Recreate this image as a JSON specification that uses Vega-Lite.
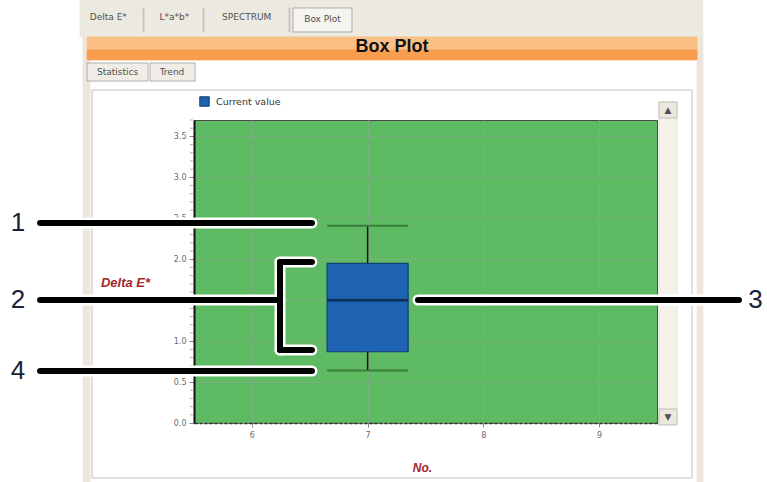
{
  "$schema": "https://vega.github.io/schema/vega-lite/v6.json",
  "autosize": {"type": "none"},
  "width": 463,
  "height": 303,
  "padding": {"left": 194, "top": 120, "right": 110, "bottom": 59},
  "background": "#ffffff",
  "config": {
    "view": {"fill": "#5fbb63", "stroke": "#4a4a4a", "strokeWidth": 1},
    "font": "DejaVu Sans",
    "scale": {"continuousPadding": 0}
  },
  "datasets": {
    "box": [
      {"No": 7, "lower": 0.64, "q1": 0.87, "median": 1.5, "q3": 1.95, "upper": 2.41, "series": "Current value"}
    ],
    "minorTicks": [
      {"No": 5.5, "v": 0.1}, {"No": 5.5, "v": 0.2}, {"No": 5.5, "v": 0.3}, {"No": 5.5, "v": 0.4},
      {"No": 5.5, "v": 0.6}, {"No": 5.5, "v": 0.7}, {"No": 5.5, "v": 0.8}, {"No": 5.5, "v": 0.9},
      {"No": 5.5, "v": 1.1}, {"No": 5.5, "v": 1.2}, {"No": 5.5, "v": 1.3}, {"No": 5.5, "v": 1.4},
      {"No": 5.5, "v": 1.6}, {"No": 5.5, "v": 1.7}, {"No": 5.5, "v": 1.8}, {"No": 5.5, "v": 1.9},
      {"No": 5.5, "v": 2.1}, {"No": 5.5, "v": 2.2}, {"No": 5.5, "v": 2.3}, {"No": 5.5, "v": 2.4},
      {"No": 5.5, "v": 2.6}, {"No": 5.5, "v": 2.7}, {"No": 5.5, "v": 2.8}, {"No": 5.5, "v": 2.9},
      {"No": 5.5, "v": 3.1}, {"No": 5.5, "v": 3.2}, {"No": 5.5, "v": 3.3}, {"No": 5.5, "v": 3.4},
      {"No": 5.5, "v": 3.6}, {"No": 5.5, "v": 3.7}
    ],
    "frame": [
      {"part": "header", "x": 4.515, "x2": 9.897, "y": 5.2, "y2": 4.714},
      {"part": "strip", "x": 4.541, "x2": 4.602, "y": 4.714, "y2": -0.75},
      {"part": "strip", "x": 9.846, "x2": 9.897, "y": 4.714, "y2": -0.75},
      {"part": "bandTop", "x": 4.576, "x2": 9.846, "y": 4.714, "y2": 4.555},
      {"part": "bandBottom", "x": 4.576, "x2": 9.846, "y": 4.555, "y2": 4.433},
      {"part": "tab", "x": 6.355, "x2": 6.865, "y": 5.068, "y2": 4.775},
      {"part": "sep", "x": 5.059, "x2": 5.068, "y": 5.068, "y2": 4.775},
      {"part": "sep", "x": 5.578, "x2": 5.587, "y": 5.068, "y2": 4.775},
      {"part": "sep", "x": 6.32, "x2": 6.329, "y": 5.068, "y2": 4.775},
      {"part": "subtab", "x": 4.576, "x2": 5.103, "y": 4.396, "y2": 4.176},
      {"part": "subtab", "x": 5.12, "x2": 5.509, "y": 4.396, "y2": 4.176},
      {"part": "scroll", "x": 9.517, "x2": 9.673, "y": 3.92, "y2": -0.024},
      {"part": "button", "x": 9.517, "x2": 9.673, "y": 3.92, "y2": 3.724},
      {"part": "button", "x": 9.517, "x2": 9.673, "y": 0.171, "y2": -0.024}
    ],
    "panel": [
      {"x": 4.619, "x2": 9.802, "y": 4.066, "y2": -0.672}
    ],
    "tabText": [
      {"label": "Delta E*", "x": 4.76, "y": 4.958},
      {"label": "L*a*b*", "x": 5.33, "y": 4.958},
      {"label": "SPECTRUM", "x": 5.955, "y": 4.958},
      {"label": "Box Plot", "x": 6.61, "y": 4.93},
      {"label": "Statistics", "x": 4.84, "y": 4.286},
      {"label": "Trend", "x": 5.31, "y": 4.286},
      {"label": "▲", "x": 9.595, "y": 3.822},
      {"label": "▼", "x": 9.595, "y": 0.074}
    ],
    "heading": [
      {"label": "Box Plot", "x": 7.211, "y": 4.591}
    ],
    "callouts": [
      {"x": 4.17, "x2": 6.519, "y": 2.442, "y2": 2.442},
      {"x": 4.17, "x2": 6.243, "y": 1.502, "y2": 1.502},
      {"x": 6.243, "x2": 6.519, "y": 1.966, "y2": 1.966},
      {"x": 6.243, "x2": 6.519, "y": 0.891, "y2": 0.891},
      {"x": 6.243, "x2": 6.243, "y": 1.966, "y2": 0.891},
      {"x": 4.17, "x2": 6.519, "y": 0.635, "y2": 0.635},
      {"x": 7.435, "x2": 10.208, "y": 1.502, "y2": 1.502}
    ],
    "numbers": [
      {"label": "1", "x": 3.98, "y": 2.442},
      {"label": "2", "x": 3.98, "y": 1.502},
      {"label": "4", "x": 3.98, "y": 0.635},
      {"label": "3", "x": 10.35, "y": 1.502}
    ]
  },
  "layer": [
    {
      "data": {"name": "box"},
      "mark": {"type": "rule", "color": "#111111", "strokeWidth": 1.5},
      "encoding": {
        "x": {"field": "No", "type": "quantitative",
          "scale": {"domain": [5.5, 9.5], "nice": false, "zero": false, "padding": 0},
          "axis": {"title": "No.", "values": [6, 7, 8, 9], "format": "d",
            "grid": true, "gridColor": "#98a398", "gridDash": [2, 2], "gridWidth": 1,
            "domainColor": "#333333", "domainDash": [3, 2], "domainWidth": 1.5,
            "tickColor": "#888888", "tickSize": 4, "labelColor": "#6a6a6a", "labelFontSize": 8, "labelPadding": 4,
            "titleColor": "#a3282d", "titleFontStyle": "italic", "titleFontWeight": "bold", "titleFontSize": 12, "titleFont": "Liberation Sans",
            "titleX": 228, "titleY": 44, "titleAlign": "center", "titleBaseline": "middle"}},
        "y": {"field": "lower", "type": "quantitative",
          "scale": {"domain": [0, 3.7], "nice": false, "zero": false, "padding": 0},
          "axis": {"title": "Delta E*",
            "values": [0, 0.5, 1.0, 1.5, 2.0, 2.5, 3.0, 3.5],
            "format": ".1f", "labelOverlap": false,
            "grid": true, "gridColor": "#98a398", "gridDash": [2, 2], "gridWidth": 1,
            "tickSize": 5, "tickColor": "#8a8a8a",
            "domainColor": "#111111", "domainWidth": 2,
            "labelColor": "#6a6a6a", "labelFontSize": 8, "labelPadding": 3,
            "titleColor": "#a3282d", "titleFontStyle": "italic", "titleFontWeight": "bold", "titleFontSize": 13, "titleFont": "Liberation Sans",
            "titleAngle": 0, "titleX": -69, "titleY": 162, "titleAlign": "center", "titleBaseline": "middle"}},
        "y2": {"field": "upper"}
      }
    },
    {
      "data": {"name": "minorTicks"},
      "mark": {"type": "tick", "clip": false, "orient": "horizontal", "size": 3, "thickness": 1, "color": "#8a8a8a", "xOffset": -2.5},
      "encoding": {
        "x": {"field": "No", "type": "quantitative", "scale": {"domain": [5.5, 9.5], "nice": false, "zero": false, "padding": 0}},
        "y": {"field": "v", "type": "quantitative", "scale": {"domain": [0, 3.7], "nice": false, "zero": false, "padding": 0}}
      }
    },
    {
      "data": {"name": "frame"},
      "mark": {"type": "rect", "clip": false, "strokeWidth": 0.8},
      "encoding": {
        "x": {"field": "x", "type": "quantitative", "scale": {"domain": [5.5, 9.5], "nice": false, "zero": false, "padding": 0}},
        "x2": {"field": "x2"},
        "y": {"field": "y", "type": "quantitative", "scale": {"domain": [0, 3.7], "nice": false, "zero": false, "padding": 0}},
        "y2": {"field": "y2"},
        "fill": {"field": "part", "type": "nominal", "legend": null,
          "scale": {"domain": ["header", "strip", "bandTop", "bandBottom", "tab", "sep", "subtab", "scroll", "button"],
                    "range": ["#ece9e1", "#ece6dc", "#fbbf86", "#f99e4f", "#f6f4ef", "#c9c5bd", "#efede6", "#f4f1ea", "#ebe8e0"]}},
        "stroke": {"field": "part", "type": "nominal", "legend": null,
          "scale": {"domain": ["header", "strip", "bandTop", "bandBottom", "tab", "sep", "subtab", "scroll", "button"],
                    "range": ["#ece9e1", "#ece6dc", "#fbbf86", "#f99e4f", "#9a9a9a", "#c9c5bd", "#a0a0a0", "#e6e2da", "#b8b4ac"]}}
      }
    },
    {
      "data": {"name": "panel"},
      "mark": {"type": "rect", "clip": false, "fill": null, "fillOpacity": 0, "stroke": "#d6d6d6", "strokeWidth": 1.5},
      "encoding": {
        "x": {"field": "x", "type": "quantitative", "scale": {"domain": [5.5, 9.5], "nice": false, "zero": false, "padding": 0}},
        "x2": {"field": "x2"},
        "y": {"field": "y", "type": "quantitative", "scale": {"domain": [0, 3.7], "nice": false, "zero": false, "padding": 0}},
        "y2": {"field": "y2"}
      }
    },
    {
      "data": {"name": "tabText"},
      "mark": {"type": "text", "clip": false, "fontSize": 9, "color": "#505050", "align": "center", "baseline": "middle", "font": "DejaVu Sans"},
      "encoding": {
        "x": {"field": "x", "type": "quantitative", "scale": {"domain": [5.5, 9.5], "nice": false, "zero": false, "padding": 0}},
        "y": {"field": "y", "type": "quantitative", "scale": {"domain": [0, 3.7], "nice": false, "zero": false, "padding": 0}},
        "text": {"field": "label"}
      }
    },
    {
      "data": {"name": "heading"},
      "mark": {"type": "text", "clip": false, "fontSize": 18, "fontWeight": "bold", "color": "#111111", "align": "center", "baseline": "middle", "font": "Liberation Sans"},
      "encoding": {
        "x": {"field": "x", "type": "quantitative", "scale": {"domain": [5.5, 9.5], "nice": false, "zero": false, "padding": 0}},
        "y": {"field": "y", "type": "quantitative", "scale": {"domain": [0, 3.7], "nice": false, "zero": false, "padding": 0}},
        "text": {"field": "label"}
      }
    },
    {
      "data": {"name": "box"},
      "mark": {"type": "tick", "orient": "horizontal", "size": 81, "thickness": 2, "color": "#3a7d3c", "opacity": 1},
      "encoding": {
        "x": {"field": "No", "type": "quantitative", "scale": {"domain": [5.5, 9.5], "nice": false, "zero": false, "padding": 0}},
        "y": {"field": "upper", "type": "quantitative", "scale": {"domain": [0, 3.7], "nice": false, "zero": false, "padding": 0}}
      }
    },
    {
      "data": {"name": "box"},
      "mark": {"type": "tick", "orient": "horizontal", "size": 81, "thickness": 2, "color": "#3a7d3c", "opacity": 1},
      "encoding": {
        "x": {"field": "No", "type": "quantitative", "scale": {"domain": [5.5, 9.5], "nice": false, "zero": false, "padding": 0}},
        "y": {"field": "lower", "type": "quantitative", "scale": {"domain": [0, 3.7], "nice": false, "zero": false, "padding": 0}}
      }
    },
    {
      "data": {"name": "box"},
      "mark": {"type": "bar", "size": 81, "stroke": "#123f73", "strokeWidth": 1.2, "opacity": 1},
      "encoding": {
        "x": {"field": "No", "type": "quantitative", "scale": {"domain": [5.5, 9.5], "nice": false, "zero": false, "padding": 0}},
        "y": {"field": "q1", "type": "quantitative", "scale": {"domain": [0, 3.7], "nice": false, "zero": false, "padding": 0}},
        "y2": {"field": "q3"},
        "color": {"field": "series", "type": "nominal",
          "scale": {"domain": ["Current value"], "range": ["#1e63b2"]},
          "legend": {"title": null, "orient": "none", "legendX": 5, "legendY": -24, "padding": 0,
            "symbolType": "square", "symbolSize": 90, "symbolStrokeColor": "#123f73", "symbolStrokeWidth": 1,
            "labelFontSize": 9.5, "labelFont": "DejaVu Sans", "labelColor": "#333333", "labelOffset": 6}}
      }
    },
    {
      "data": {"name": "box"},
      "mark": {"type": "tick", "orient": "horizontal", "size": 81, "thickness": 2.5, "color": "#0e2d52", "opacity": 1},
      "encoding": {
        "x": {"field": "No", "type": "quantitative", "scale": {"domain": [5.5, 9.5], "nice": false, "zero": false, "padding": 0}},
        "y": {"field": "median", "type": "quantitative", "scale": {"domain": [0, 3.7], "nice": false, "zero": false, "padding": 0}}
      }
    },
    {
      "data": {"name": "callouts"},
      "mark": {"type": "rule", "clip": false, "color": "#ffffff", "strokeWidth": 11, "strokeCap": "round"},
      "encoding": {
        "x": {"field": "x", "type": "quantitative", "scale": {"domain": [5.5, 9.5], "nice": false, "zero": false, "padding": 0}},
        "x2": {"field": "x2"},
        "y": {"field": "y", "type": "quantitative", "scale": {"domain": [0, 3.7], "nice": false, "zero": false, "padding": 0}},
        "y2": {"field": "y2"}
      }
    },
    {
      "data": {"name": "callouts"},
      "mark": {"type": "rule", "clip": false, "color": "#000000", "strokeWidth": 6, "strokeCap": "round"},
      "encoding": {
        "x": {"field": "x", "type": "quantitative", "scale": {"domain": [5.5, 9.5], "nice": false, "zero": false, "padding": 0}},
        "x2": {"field": "x2"},
        "y": {"field": "y", "type": "quantitative", "scale": {"domain": [0, 3.7], "nice": false, "zero": false, "padding": 0}},
        "y2": {"field": "y2"}
      }
    },
    {
      "data": {"name": "numbers"},
      "mark": {"type": "text", "clip": false, "fontSize": 26, "color": "#1b2238", "align": "center", "baseline": "middle", "font": "Liberation Sans"},
      "encoding": {
        "x": {"field": "x", "type": "quantitative", "scale": {"domain": [5.5, 9.5], "nice": false, "zero": false, "padding": 0}},
        "y": {"field": "y", "type": "quantitative", "scale": {"domain": [0, 3.7], "nice": false, "zero": false, "padding": 0}},
        "text": {"field": "label"}
      }
    }
  ]
}
